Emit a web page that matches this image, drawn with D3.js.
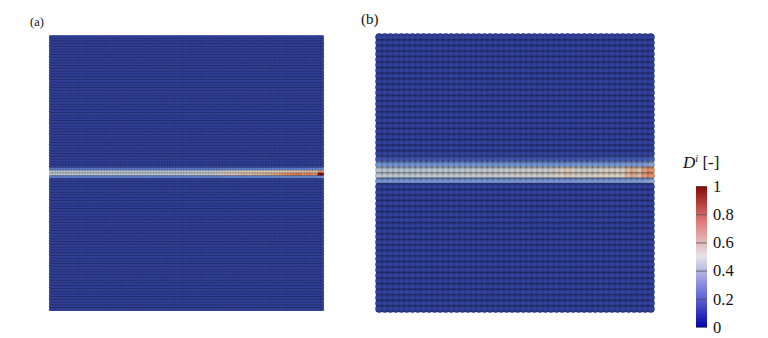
<!DOCTYPE html>
<html>
<head>
<meta charset="utf-8">
<script src="https://cdn.jsdelivr.net/npm/d3@7"></script>
<style>
  html, body { margin: 0; padding: 0; background: #fff; }
  text { font-family: "Liberation Serif", serif; fill: #111; }
</style>
</head>
<body>
<svg id="chart" width="768" height="338"></svg>
<script>
// damage index
const colorStops = [0, 0.25, 0.5, 0.75, 1];
const colorValues = ["#0505a8", "#7278dc", "#e6e3e6", "#e07a78", "#860808"];
const legendTicks = [0, 0.2, 0.4, 0.6, 0.8, 1];

// the particles are lit in the render, so they look more muted than the bar
const litStops = [0, 0.25, 0.45, 0.55, 0.75, 1];
const litValues = ["#263090", "#6488d6", "#bcc8d4", "#dcd2c4", "#e68a5c", "#8c0a1e"];

// panel (a): 100 x 100 particles, only the rows round the crack differ
const aGridSize = 100;
const aBackground = 0.05;
const aBandRows = [48, 49, 50, 51];
const aBandValues = [
  [0.2, 0.2, 0.2, 0.2, 0.2, 0.2, 0.2, 0.2, 0.2, 0.2, 0.2, 0.2, 0.2, 0.2, 0.2, 0.2, 0.2, 0.2, 0.2, 0.2, 0.2, 0.2, 0.2, 0.2, 0.2, 0.2, 0.2, 0.2, 0.2, 0.2, 0.2, 0.2, 0.21, 0.21, 0.21, 0.21, 0.21, 0.21, 0.21, 0.21, 0.22, 0.22, 0.22, 0.22, 0.22, 0.22, 0.22, 0.22, 0.23, 0.25],
  [0.44, 0.44, 0.44, 0.44, 0.44, 0.44, 0.44, 0.44, 0.44, 0.44, 0.44, 0.44, 0.44, 0.44, 0.44, 0.44, 0.44, 0.44, 0.44, 0.44, 0.44, 0.44, 0.44, 0.44, 0.44, 0.45, 0.45, 0.45, 0.45, 0.45, 0.46, 0.48, 0.5, 0.5, 0.52, 0.52, 0.53, 0.53, 0.54, 0.54, 0.55, 0.56, 0.56, 0.56, 0.58, 0.58, 0.6, 0.6, 0.58, 0.7],
  [0.47, 0.47, 0.47, 0.47, 0.47, 0.47, 0.47, 0.47, 0.47, 0.47, 0.47, 0.47, 0.47, 0.47, 0.47, 0.47, 0.47, 0.47, 0.47, 0.47, 0.47, 0.47, 0.47, 0.47, 0.47, 0.48, 0.48, 0.48, 0.48, 0.48, 0.5, 0.54, 0.58, 0.56, 0.6, 0.62, 0.6, 0.64, 0.62, 0.64, 0.66, 0.68, 0.72, 0.74, 0.76, 0.78, 0.74, 0.76, 0.72, 1],
  [0.24, 0.24, 0.24, 0.24, 0.24, 0.24, 0.24, 0.24, 0.24, 0.24, 0.24, 0.24, 0.24, 0.24, 0.24, 0.24, 0.24, 0.24, 0.24, 0.24, 0.24, 0.24, 0.24, 0.24, 0.24, 0.24, 0.24, 0.24, 0.24, 0.24, 0.24, 0.24, 0.25, 0.25, 0.25, 0.25, 0.25, 0.25, 0.25, 0.25, 0.26, 0.26, 0.26, 0.26, 0.26, 0.26, 0.26, 0.26, 0.27, 0.3]
];

// panel (b): 50 x 50 particles, wider band
const bGridSize = 50;
const bBackground = 0.05;
const bBandRows = [22, 23, 24, 25, 26];
const bBandValues = [
  [0.1, 0.1, 0.1, 0.1, 0.1, 0.1, 0.1, 0.1, 0.1, 0.1, 0.1, 0.1, 0.1, 0.1, 0.1, 0.1, 0.1, 0.1, 0.1, 0.1, 0.1, 0.1, 0.1, 0.1, 0.1, 0.1, 0.1, 0.1, 0.1, 0.1, 0.1, 0.1, 0.1, 0.1, 0.1, 0.1, 0.1, 0.1, 0.1, 0.1, 0.11, 0.11, 0.11, 0.11, 0.11, 0.11, 0.11, 0.11, 0.12, 0.13],
  [0.28, 0.28, 0.28, 0.28, 0.28, 0.28, 0.28, 0.28, 0.28, 0.28, 0.28, 0.28, 0.28, 0.28, 0.28, 0.28, 0.28, 0.28, 0.28, 0.28, 0.28, 0.28, 0.28, 0.28, 0.28, 0.28, 0.28, 0.28, 0.28, 0.28, 0.28, 0.28, 0.28, 0.28, 0.28, 0.28, 0.29, 0.29, 0.29, 0.29, 0.29, 0.29, 0.29, 0.29, 0.3, 0.3, 0.3, 0.3, 0.31, 0.33],
  [0.44, 0.44, 0.44, 0.44, 0.44, 0.44, 0.44, 0.44, 0.44, 0.45, 0.45, 0.45, 0.45, 0.45, 0.45, 0.46, 0.46, 0.47, 0.47, 0.47, 0.47, 0.47, 0.48, 0.49, 0.49, 0.49, 0.49, 0.49, 0.5, 0.5, 0.5, 0.5, 0.51, 0.54, 0.57, 0.54, 0.51, 0.51, 0.51, 0.51, 0.53, 0.53, 0.53, 0.53, 0.53, 0.6, 0.64, 0.58, 0.68, 0.72],
  [0.46, 0.46, 0.46, 0.46, 0.46, 0.46, 0.46, 0.46, 0.46, 0.47, 0.47, 0.47, 0.47, 0.47, 0.47, 0.48, 0.48, 0.49, 0.49, 0.49, 0.49, 0.49, 0.5, 0.5, 0.5, 0.5, 0.51, 0.51, 0.51, 0.51, 0.51, 0.52, 0.53, 0.55, 0.58, 0.55, 0.53, 0.53, 0.53, 0.53, 0.55, 0.55, 0.55, 0.55, 0.55, 0.62, 0.66, 0.6, 0.7, 0.74],
  [0.3, 0.3, 0.3, 0.3, 0.3, 0.3, 0.3, 0.3, 0.3, 0.3, 0.3, 0.3, 0.3, 0.3, 0.3, 0.3, 0.3, 0.3, 0.3, 0.3, 0.3, 0.3, 0.3, 0.3, 0.3, 0.3, 0.3, 0.3, 0.3, 0.3, 0.3, 0.3, 0.3, 0.3, 0.3, 0.3, 0.31, 0.31, 0.31, 0.31, 0.31, 0.31, 0.31, 0.31, 0.32, 0.32, 0.32, 0.32, 0.33, 0.35]
];

const svg = d3.select("#chart");

const color = d3.scaleLinear().domain(colorStops).range(colorValues);
const litColor = d3.scaleLinear().domain(litStops).range(litValues);

// shared shading: faint per particle, stronger between the rows
const defs = svg.append("defs");
const shade = defs.append("radialGradient").attr("id", "shade");
shade.append("stop").attr("offset", "55%").attr("stop-color", "#000").attr("stop-opacity", 0);
shade.append("stop").attr("offset", "100%").attr("stop-color", "#000").attr("stop-opacity", 0.14);

const rowShade = defs.append("linearGradient")
  .attr("id", "rowShade").attr("x1", 0).attr("y1", 0).attr("x2", 0).attr("y2", 1);
rowShade.append("stop").attr("offset", "0%").attr("stop-color", "#000").attr("stop-opacity", 0.12);
rowShade.append("stop").attr("offset", "40%").attr("stop-color", "#000").attr("stop-opacity", 0);
rowShade.append("stop").attr("offset", "70%").attr("stop-color", "#000").attr("stop-opacity", 0);
rowShade.append("stop").attr("offset", "100%").attr("stop-color", "#000").attr("stop-opacity", 0.32);

/**
 * Draws a square field of particles.
 */
function drawPanel(box, n, radiusFactor, background, bandRows, bandValues) {
  const x = d3.scaleBand().domain(d3.range(n)).range([box.x0, box.x1]);
  const y = d3.scaleBand().domain(d3.range(n)).range([box.y0, box.y1]);
  const r = x.bandwidth() * radiusFactor;

  const cells = [];
  for (let row = 0; row < n; row++) {
    for (let col = 0; col < n; col++) {
      const band = bandRows.indexOf(row);
      let value = background;
      if (band >= 0) {
        const values = bandValues[band];
        value = values[Math.floor(col * values.length / n)];
      }
      cells.push({ row, col, value });
    }
  }

  const g = svg.append("g").style("filter", "blur(0.45px)");
  g.selectAll("circle.p")
    .data(cells)
    .join("circle")
    .attr("class", "p")
    .attr("cx", d => x(d.col) + x.bandwidth() / 2)
    .attr("cy", d => y(d.row) + y.bandwidth() / 2)
    .attr("r", r)
    .attr("fill", d => litColor(d.value));
  g.selectAll("circle.s")
    .data(cells)
    .join("circle")
    .attr("class", "s")
    .attr("cx", d => x(d.col) + x.bandwidth() / 2)
    .attr("cy", d => y(d.row) + y.bandwidth() / 2)
    .attr("r", r)
    .attr("fill", "url(#shade)");
  g.selectAll("rect.r")
    .data(d3.range(n))
    .join("rect")
    .attr("class", "r")
    .attr("x", box.x0)
    .attr("y", d => y(d))
    .attr("width", box.x1 - box.x0)
    .attr("height", y.bandwidth())
    .attr("fill", "url(#rowShade)");
}

drawPanel({ x0: 49.5, x1: 323.5, y0: 35.5, y1: 310.5 }, aGridSize, 0.72, aBackground, aBandRows, aBandValues);
drawPanel({ x0: 376.5, x1: 653.5, y0: 34.5, y1: 311.5 }, bGridSize, 0.72, bBackground, bBandRows, bBandValues);

svg.append("text").attr("x", 30).attr("y", 26).attr("font-size", 12.5).text("(a)");
svg.append("text").attr("x", 361).attr("y", 24).attr("font-size", 15).text("(b)");

// legend
const legendX = 696, legendW = 11;
const legendY = d3.scaleLinear().domain([0, 1]).range([327, 186]);

const grad = defs.append("linearGradient")
  .attr("id", "bar").attr("x1", 0).attr("y1", 1).attr("x2", 0).attr("y2", 0);
grad.selectAll("stop")
  .data(colorStops)
  .join("stop")
  .attr("offset", d => d)
  .attr("stop-color", d => color(d));

svg.append("rect")
  .attr("x", legendX).attr("y", legendY(1))
  .attr("width", legendW).attr("height", legendY(0) - legendY(1))
  .attr("fill", "url(#bar)");

const legendAxis = svg.append("g")
  .attr("transform", `translate(${legendX + legendW},0)`)
  .call(d3.axisRight(legendY).tickValues(legendTicks).tickFormat(d3.format("~g")).tickSize(-legendW).tickPadding(6));
legendAxis.select(".domain").remove();
legendAxis.selectAll("line").attr("stroke", "#555").attr("stroke-width", 1).attr("stroke-opacity", 0.8);
legendAxis.selectAll("text")
  .attr("font-family", '"Liberation Serif", serif')
  .attr("font-size", 16.5)
  .attr("fill", "#111");

const title = svg.append("text").attr("x", 683).attr("y", 168).attr("font-size", 17);
title.append("tspan").attr("font-style", "italic").text("D");
title.append("tspan").attr("font-style", "italic").attr("font-size", 10.5).attr("dy", -6).text("i");
title.append("tspan").attr("dy", 6).text(" [-]");
</script>
</body>
</html>
